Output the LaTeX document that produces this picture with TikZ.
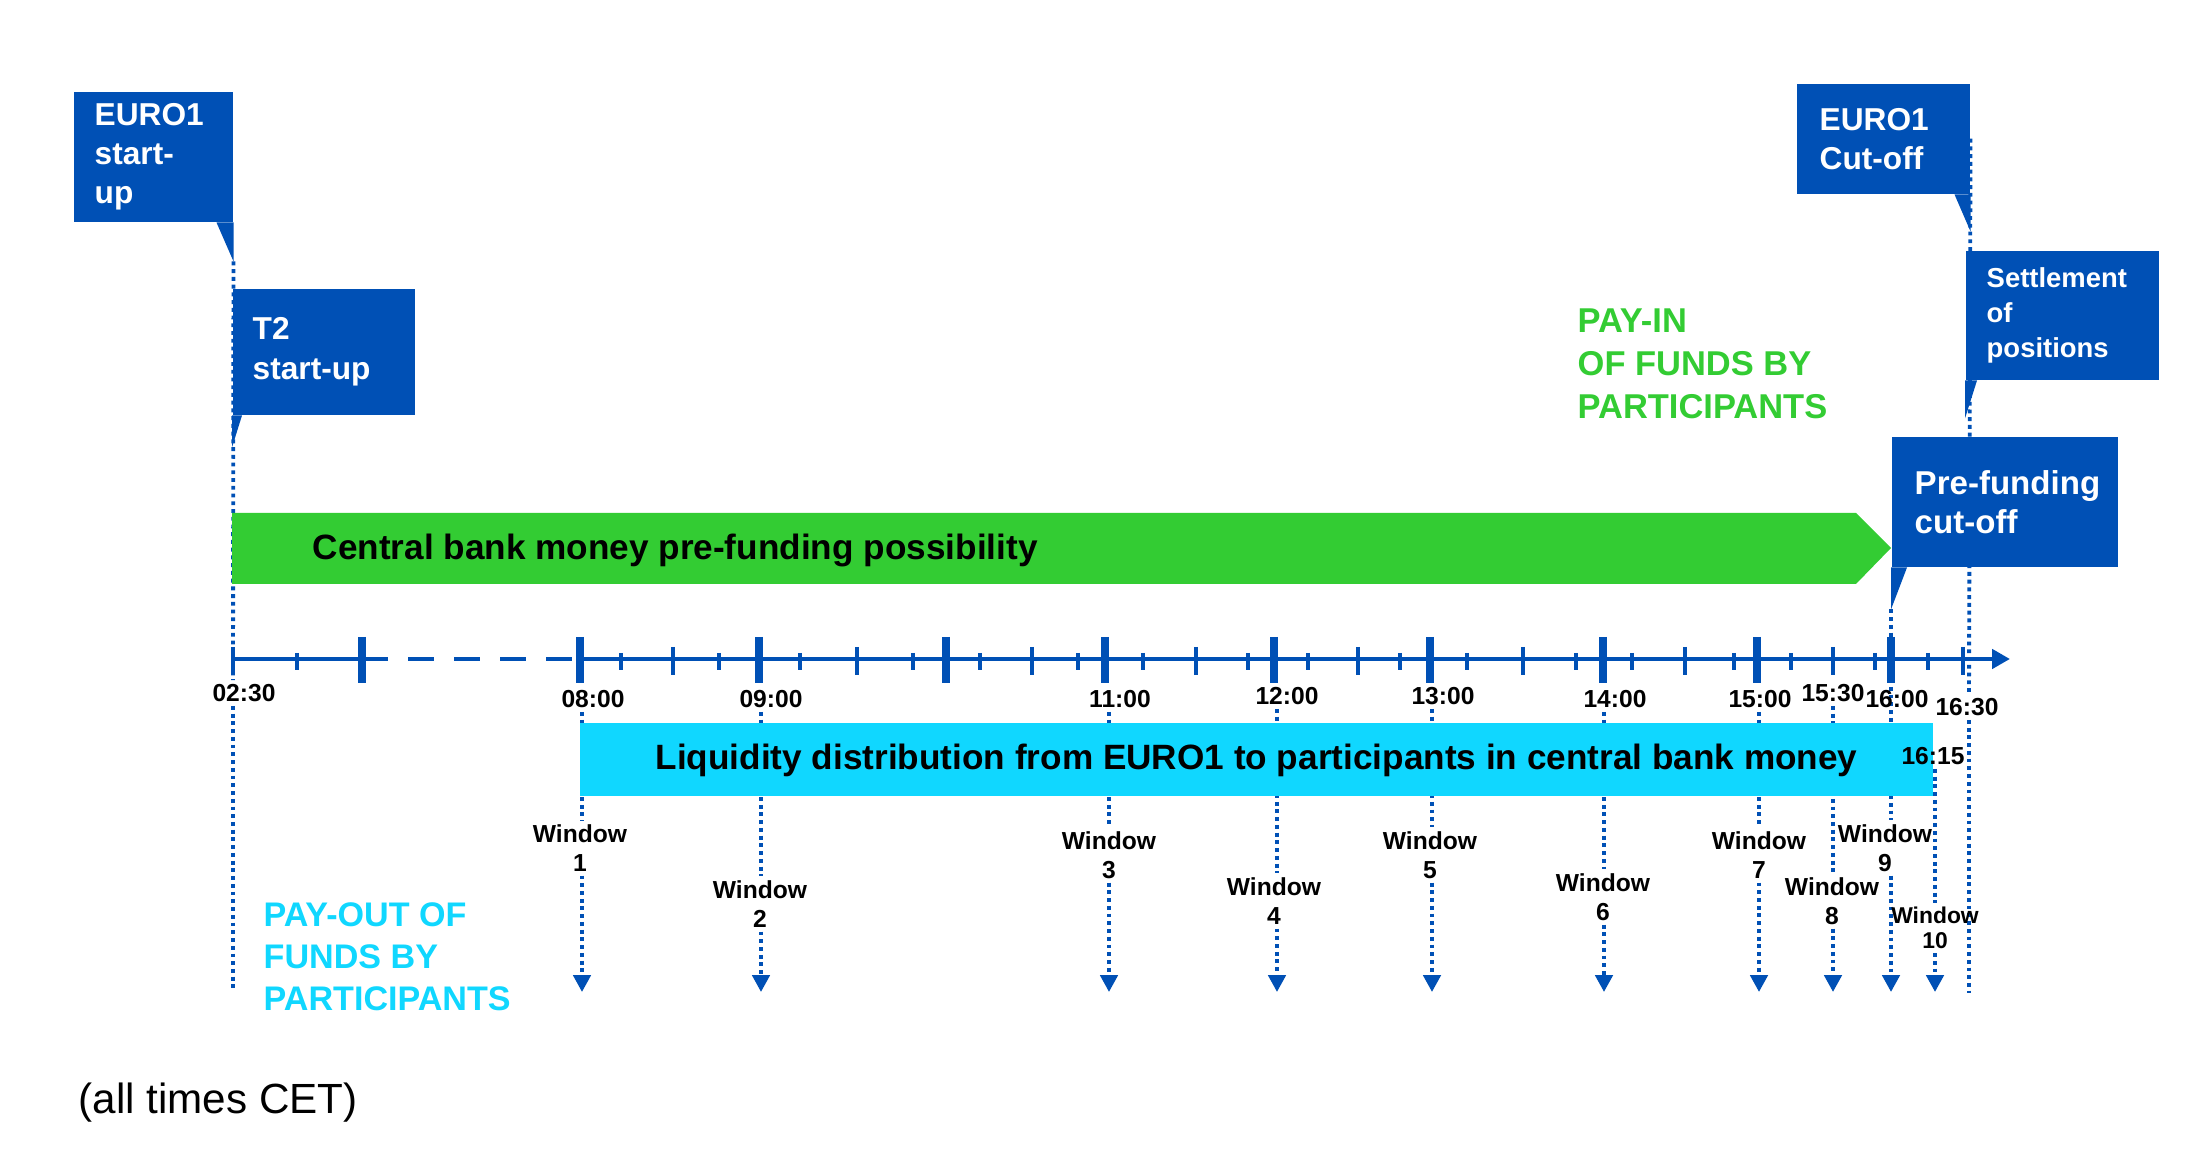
\documentclass[tikz,border=0pt]{standalone}
\usepackage{fontspec}
\setmainfont{Liberation Sans}
\usetikzlibrary{arrows.meta,backgrounds}
\definecolor{azul}{HTML}{0050B5}
\definecolor{verde}{HTML}{33CC33}
\definecolor{ciano}{HTML}{10D7FF}

\begin{document}
\begin{tikzpicture}[x=0.01cm, y=-0.01cm,
  caixa/.style={fill=azul, text=white, align=left, anchor=north west, inner ysep=0pt,
    font=\bfseries\fontsize{9}{11.1}\selectfont},
  hora/.style={inner sep=1pt, font=\bfseries\fontsize{7}{8}\selectfont},
  janela/.style={align=center, inner sep=1pt, font=\bfseries\fontsize{7}{8.2}\selectfont},
  faixa/.style={anchor=west, inner sep=0pt, font=\bfseries\fontsize{10}{12}\selectfont},
  pontilhado/.style={azul, line width=1.1pt, dash pattern=on 1.1pt off 1.1pt},
  seta/.style={-{Triangle[width=4.9pt,length=4.8pt]}},
  eixo/.style={azul, line width=1.4pt}]
\useasboundingbox (0,0) rectangle (2208,1174);

% barras
\fill[verde] (232,513) -- (1856,513) -- (1891,548) -- (1856,584) -- (232,584) -- cycle;
\node[faixa] (cbmoney) at (312,550) {Central bank money pre-funding possibility};
\fill[ciano] (580,723) rectangle (1933,796);
\node[faixa] (liquidity) at (655,760) {Liquidity distribution from EURO1 to participants in central bank money};

% caixas
\node[caixa, minimum height=1.30cm, text width=1.17cm, inner xsep=0.21cm] (eurostart) at (73,91) {EURO1\\start-\\up};
\fill[azul] (eurostart.south east) -- ++(-17,0) -- ++(17,39) coordinate (eurostart tip) -- cycle;

\node[caixa, minimum height=1.26cm, text width=1.42cm, inner xsep=0.20cm] (t2start) at (232,288) {T2\\start-up};
\fill[azul] (t2start.south west) -- ++(10,0) -- ++(-10,32) -- cycle;

\node[caixa, minimum height=1.10cm, text width=1.27cm, inner xsep=0.23cm] (eurocut) at (1796,83) {EURO1\\Cut-off};
\fill[azul] (eurocut.south east) -- ++(-16,0) -- ++(16,37) -- cycle;

\node[caixa, minimum height=1.29cm, text width=1.51cm, inner xsep=0.21cm,
  font=\bfseries\fontsize{7.8}{10}\selectfont] (settle) at (1965,250) {Settlement\\of\\positions};
\fill[azul] (settle.south west) -- ++(12,0) -- ++(-12,38) -- cycle;

\node[caixa, minimum height=1.30cm, text width=1.80cm, inner xsep=0.23cm,
  font=\bfseries\fontsize{9.4}{11.1}\selectfont] (prefund) at (1891,436) {\mbox{Pre-funding}\\cut-off};
\fill[azul] (prefund.south west) -- ++(16,0) -- ++(-16,42) coordinate (prefund tip) -- cycle;

% eixo
\draw[eixo] (233,659) -- (362,659);
\draw[eixo, dash pattern=on 7.4pt off 5.7pt] (362,659) -- (580,659);
\draw[eixo, -{Triangle[width=5.4pt,length=5.1pt]}] (580,659) -- (2010,659);
\foreach \x in {297, 621, 719, 800, 913, 980, 1078, 1143, 1248, 1308, 1400, 1467, 1576, 1632, 1734, 1791, 1875, 1928} {
  \draw[azul, line width=1pt] (\x,653) -- (\x,670);
}
\foreach \x in {233, 673, 857, 1032, 1196, 1358, 1523, 1685, 1833, 1963} {
  \draw[azul, line width=1pt] (\x,647) -- (\x,675);
}
\foreach \x in {362, 580, 759, 946, 1105, 1274, 1430, 1603, 1757, 1891} {
  \draw[azul, line width=2pt] (\x,637) -- (\x,683);
}

% horas
\foreach \n/\x/\y/\t in {h0230/244/693/02:30, h0800/593/699/08:00, h0900/771/699/09:00,
    h1100/1120/699/11:00, h1200/1287/696/12:00, h1300/1443/696/13:00, h1400/1615/699/14:00,
    h1500/1760/699/15:00, h1530/1833/693/15:30, h1600/1897/699/16:00, h1630/1967/707/16:30,
    h1615/1933/756/16:15} {
  \node[hora] (\n) at (\x,\y) {\t};
}

% janelas
\foreach \n/\x/\y in {1/580/848, 2/760/904, 3/1109/855, 4/1274/901, 5/1430/855,
    6/1603/897, 7/1759/855, 8/1832/901, 9/1885/848} {
  \node[janela] (w\n) at (\x,\y) {Window\\\n};
}
\node[janela, font=\bfseries\fontsize{6.5}{7.1}\selectfont] (w10) at (1935,928) {Window\\10};
\foreach \n/\x in {1/582, 2/761, 3/1109, 4/1277, 5/1432, 6/1604, 7/1759, 8/1833, 9/1891, 10/1935} {
  \coordinate (e\n) at (\x,992);
}

% textos
\node[anchor=west, inner sep=0pt, align=left, text=verde,
  font=\bfseries\fontsize{9.8}{12.2}\selectfont] (payin) at (1577,364) {PAY-IN\\OF FUNDS BY\\PARTICIPANTS};
\node[anchor=west, inner sep=0pt, align=left, text=ciano,
  font=\bfseries\fontsize{9.7}{12}\selectfont] (payout) at (263,957) {PAY-OUT OF\\FUNDS BY\\PARTICIPANTS};
\node[anchor=west, inner sep=0pt, font=\fontsize{12}{14}\selectfont] (cet) at (78,1103) {(all times CET)};

% linhas pontilhadas (por baixo)
\begin{scope}[on background layer]
\coordinate (x0230) at (233,992);
\draw[pontilhado] (eurostart tip) -- (h0230.north -| x0230);
\draw[pontilhado] (h0230.south -| x0230) -- (x0230);
\coordinate (x1630) at (1969,993);
\draw[pontilhado] (eurocut.east) -- (h1630.north -| x1630);
\draw[pontilhado] (h1630.south -| x1630) -- (x1630);
\foreach \h/\n in {h0800/1, h0900/2, h1100/3, h1200/4, h1300/5, h1400/6, h1500/7, h1530/8, h1615/10} {
  \draw[pontilhado] (\h.south -| e\n) -- (w\n.north -| e\n);
}
\draw[pontilhado] (prefund tip) -- (w9.north -| e9);
\foreach \n in {1,...,10} {
  \draw[pontilhado, seta] (w\n.south -| e\n) -- (e\n);
}
\end{scope}

\end{tikzpicture}
\end{document}
